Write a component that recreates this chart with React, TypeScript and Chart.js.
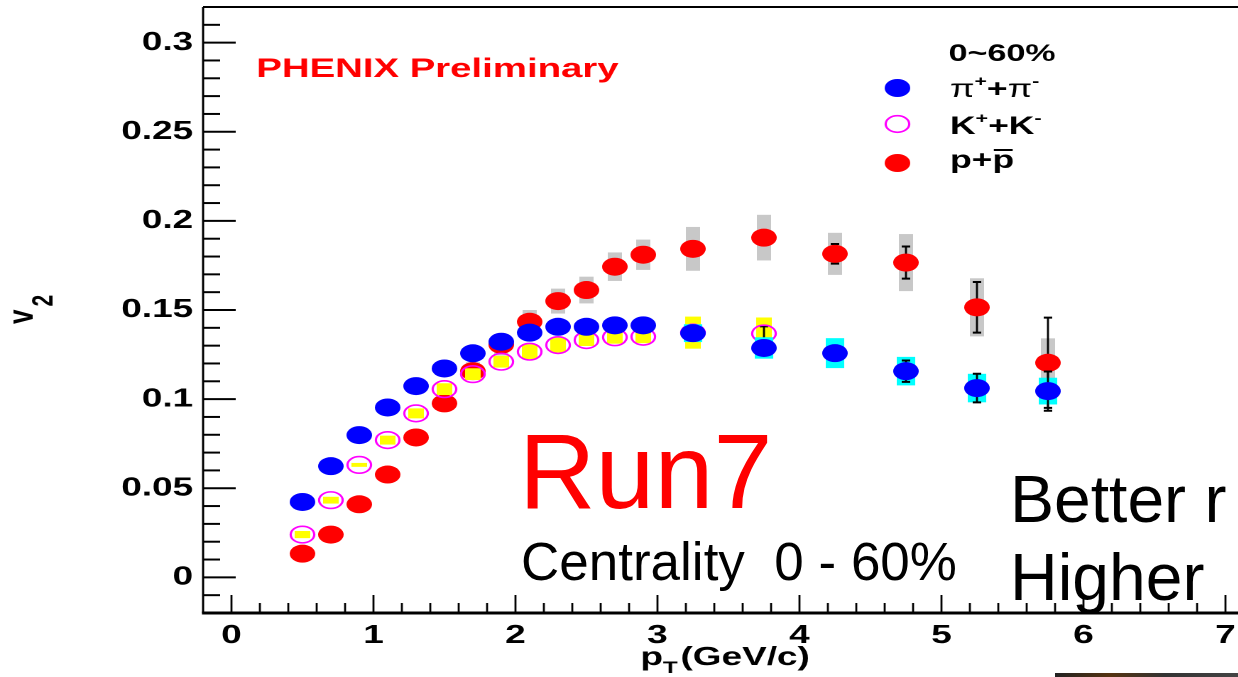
import React, { useEffect, useRef } from "react";
import { Chart, registerables } from "chart.js";

Chart.register(...registerables);

// ---------------- data ----------------
const pionPt = [0.5, 0.7, 0.9, 1.1, 1.3, 1.5, 1.7, 1.9, 2.1, 2.3, 2.5, 2.7, 2.9, 3.25, 3.75, 4.25, 4.75, 5.25, 5.75];
const pionV2 = [0.0423, 0.0624, 0.0798, 0.0953, 0.1073, 0.1172, 0.1257, 0.1322, 0.1373, 0.1406, 0.1406, 0.1414, 0.1414, 0.137, 0.1287, 0.1258, 0.1157, 0.1062, 0.1045];
const pionSys = [0.002, 0.002, 0.002, 0.002, 0.002, 0.0025, 0.0025, 0.003, 0.003, 0.003, 0.003, 0.003, 0.003, 0.005, 0.006, 0.0084, 0.008, 0.008, 0.0075];
const pionErr = [0.0005, 0.0005, 0.0005, 0.0005, 0.0006, 0.0006, 0.0007, 0.0008, 0.001, 0.001, 0.0012, 0.0014, 0.0016, 0.002, 0.003, 0.004, 0.006, 0.008, 0.011];

const kaonPt = [0.5, 0.7, 0.9, 1.1, 1.3, 1.5, 1.7, 1.9, 2.1, 2.3, 2.5, 2.7, 2.9, 3.25, 3.75];
const kaonV2 = [0.024, 0.0433, 0.0631, 0.077, 0.092, 0.1056, 0.114, 0.121, 0.1266, 0.1303, 0.1331, 0.1347, 0.135, 0.1373, 0.1368];
const kaonSys = [0.002, 0.0019, 0.0011, 0.0025, 0.0028, 0.0033, 0.0033, 0.0033, 0.0042, 0.0042, 0.0033, 0.0036, 0.0036, 0.009, 0.009];
const kaonErr = [0, 0, 0, 0, 0, 0, 0, 0, 0, 0, 0, 0, 0, 0, 0.004];

const protonPt = [0.5, 0.7, 0.9, 1.1, 1.3, 1.5, 1.7, 1.9, 2.1, 2.3, 2.5, 2.7, 2.9, 3.25, 3.75, 4.25, 4.75, 5.25, 5.75];
const protonV2 = [0.0133, 0.024, 0.041, 0.0577, 0.0785, 0.0976, 0.1157, 0.1305, 0.1434, 0.155, 0.1612, 0.1743, 0.181, 0.1843, 0.1906, 0.1815, 0.1766, 0.1515, 0.1204];
const protonSys = [0.001, 0.001, 0.0015, 0.002, 0.003, 0.004, 0.005, 0.006, 0.0066, 0.007, 0.0075, 0.008, 0.0085, 0.0123, 0.0128, 0.0118, 0.016, 0.0163, 0.0137];
const protonErr = [0.001, 0.001, 0.001, 0.001, 0.0012, 0.0013, 0.0015, 0.0017, 0.002, 0.002, 0.0022, 0.0025, 0.003, 0.003, 0.004, 0.0055, 0.009, 0.0142, 0.0253];

const xTickValues = [0, 1, 2, 3, 4, 5, 6, 7];
const yTickValues = [0, 0.05, 0.1, 0.15, 0.2, 0.25, 0.3];

const seriesLabels = ["π⁺+π⁻", "K⁺+K⁻", "p+p̄"];
const centralityLabel = "0~60%";

// ---------------- layout ----------------
const S = 1.42; // horizontal stretch of the original plot image
const W = 872;
const H = 677;
const FONT = '"Liberation Sans", Arial, Helvetica, sans-serif';

const extras = [
  { x: pionPt, y: pionV2, sys: pionSys, err: pionErr, sysColor: "#00ffff", halfW: 0.065 },
  { x: kaonPt, y: kaonV2, sys: kaonSys, err: kaonErr, sysColor: "#ffff00", halfW: 0.055 },
  { x: protonPt, y: protonV2, sys: protonSys, err: protonErr, sysColor: "#c8c8c8", halfW: 0.05 },
];

function drawParts(ctx: CanvasRenderingContext2D, x: number, y: number, parts: { t: string; f: string; dy?: number; over?: boolean }[]) {
  let cx = x;
  for (const p of parts) {
    ctx.font = p.f;
    const w = ctx.measureText(p.t).width;
    ctx.fillText(p.t, cx, y + (p.dy || 0));
    if (p.over) {
      ctx.save();
      ctx.lineWidth = 2;
      ctx.beginPath();
      ctx.moveTo(cx + 1, y - 18);
      ctx.lineTo(cx + w - 1, y - 18);
      ctx.stroke();
      ctx.restore();
    }
    cx += w;
  }
  return cx;
}

const rootPlugin = {
  id: "rootStyle",
  beforeDatasetDraw(chart: any, args: any) {
    const e = extras[args.index];
    if (!e) return;
    const ctx: CanvasRenderingContext2D = chart.ctx;
    const xs = chart.scales.x;
    const ys = chart.scales.y;
    const ca = chart.chartArea;
    ctx.save();
    ctx.beginPath();
    ctx.rect(ca.left, ca.top, ca.right - ca.left, ca.bottom - ca.top);
    ctx.clip();
    // systematic boxes
    ctx.fillStyle = e.sysColor;
    for (let i = 0; i < e.x.length; i++) {
      const x0 = xs.getPixelForValue(e.x[i] - e.halfW);
      const x1 = xs.getPixelForValue(e.x[i] + e.halfW);
      const y0 = ys.getPixelForValue(e.y[i] + e.sys[i]);
      const y1 = ys.getPixelForValue(e.y[i] - e.sys[i]);
      ctx.fillRect(x0, y0, x1 - x0, y1 - y0);
    }
    // statistical error bars
    ctx.strokeStyle = "#000";
    for (let i = 0; i < e.x.length; i++) {
      if (!e.err[i]) continue;
      const px = xs.getPixelForValue(e.x[i]);
      const y0 = ys.getPixelForValue(e.y[i] + e.err[i]);
      const y1 = ys.getPixelForValue(e.y[i] - e.err[i]);
      ctx.lineWidth = 1.4;
      ctx.beginPath();
      ctx.moveTo(px, y0);
      ctx.lineTo(px, y1);
      ctx.stroke();
      ctx.lineWidth = 2;
      ctx.beginPath();
      ctx.moveTo(px - 3, y0);
      ctx.lineTo(px + 3, y0);
      ctx.moveTo(px - 3, y1);
      ctx.lineTo(px + 3, y1);
      ctx.stroke();
    }
    ctx.restore();
  },
  afterDraw(chart: any) {
    const ctx: CanvasRenderingContext2D = chart.ctx;
    const xs = chart.scales.x;
    const ys = chart.scales.y;
    const ca = chart.chartArea;
    ctx.save();
    ctx.strokeStyle = "#000";
    ctx.fillStyle = "#000";
    // frame
    ctx.lineWidth = 2;
    ctx.beginPath();
    ctx.moveTo(ca.left, ca.top);
    ctx.lineTo(ca.right, ca.top);
    ctx.stroke();
    ctx.lineWidth = 1.5;
    ctx.beginPath();
    ctx.moveTo(ca.left, ca.top);
    ctx.lineTo(ca.left, ca.bottom);
    ctx.stroke();
    ctx.lineWidth = 3;
    ctx.beginPath();
    ctx.moveTo(ca.left - 0.8, ca.bottom);
    ctx.lineTo(ca.right, ca.bottom);
    ctx.stroke();
    // y ticks (inside)
    ctx.lineWidth = 2;
    for (let k = -1; k <= 31; k++) {
      const py = ys.getPixelForValue(k / 100);
      const len = k % 5 === 0 ? 23 : 12;
      ctx.beginPath();
      ctx.moveTo(ca.left, py);
      ctx.lineTo(ca.left + len, py);
      ctx.stroke();
    }
    // x ticks (inside)
    ctx.lineWidth = 1.4;
    for (let k = 0; k <= 35; k++) {
      const px = xs.getPixelForValue(k / 5);
      if (px > ca.right) break;
      const len = k % 5 === 0 ? 18 : 10;
      ctx.beginPath();
      ctx.moveTo(px, ca.bottom);
      ctx.lineTo(px, ca.bottom - len);
      ctx.stroke();
    }
    // axis titles
    ctx.textBaseline = "alphabetic";
    ctx.textAlign = "left";
    let cx = drawParts(ctx, 451, 665, [{ t: "p", f: `bold 26px ${FONT}` }]);
    cx = drawParts(ctx, cx, 673, [{ t: "T", f: `bold 17px ${FONT}` }]);
    drawParts(ctx, cx + 2, 665, [{ t: "(GeV/c)", f: `bold 26px ${FONT}` }]);

    ctx.save();
    ctx.translate(23, 324);
    ctx.rotate(-Math.PI / 2);
    ctx.font = `bold 26px ${FONT}`;
    ctx.fillText("v", 0, 0);
    const vw = ctx.measureText("v").width;
    ctx.font = `bold 21px ${FONT}`;
    ctx.fillText("2", vw + 3, 14);
    ctx.restore();

    // PHENIX label
    ctx.fillStyle = "#ff0000";
    ctx.font = `bold 27px ${FONT}`;
    ctx.fillText("PHENIX Preliminary", 180.5, 77);

    // legend
    ctx.fillStyle = "#000";
    ctx.font = `bold 24px ${FONT}`;
    ctx.fillText(centralityLabel, 668, 61);
    const mx = 632;
    const rows = [88, 124, 163];
    ctx.fillStyle = "#0000ff";
    ctx.beginPath();
    ctx.arc(mx, rows[0], 9, 0, Math.PI * 2);
    ctx.fill();
    ctx.strokeStyle = "#ff00ff";
    ctx.lineWidth = 1.6;
    ctx.beginPath();
    ctx.arc(mx, rows[1], 8.3, 0, Math.PI * 2);
    ctx.stroke();
    ctx.fillStyle = "#ff0000";
    ctx.beginPath();
    ctx.arc(mx, rows[2], 9, 0, Math.PI * 2);
    ctx.fill();
    ctx.fillStyle = "#000";
    ctx.strokeStyle = "#000";
    const big = `bold 25px ${FONT}`;
    const sup = `bold 15px ${FONT}`;
    drawParts(ctx, 669, 97, [
      { t: "π", f: `25px ${FONT}` },
      { t: "+", f: sup, dy: -11 },
      { t: "+", f: big },
      { t: "π", f: `25px ${FONT}` },
      { t: "-", f: sup, dy: -11 },
    ]);
    drawParts(ctx, 669, 134, [
      { t: "K", f: big },
      { t: "+", f: sup, dy: -11 },
      { t: "+", f: big },
      { t: "K", f: big },
      { t: "-", f: sup, dy: -11 },
    ]);
    drawParts(ctx, 669, 168, [
      { t: "p", f: big },
      { t: "+", f: big },
      { t: "p", f: big, over: true },
    ]);
    ctx.restore();
  },
};

function overlayStyle(left: number, top: number, fs: number, color: string): React.CSSProperties {
  return {
    position: "absolute",
    left,
    top,
    fontFamily: FONT,
    fontSize: fs,
    lineHeight: `${fs}px`,
    whiteSpace: "pre",
    color,
    margin: 0,
  };
}

export default function App() {
  const ref = useRef<HTMLCanvasElement>(null);
  useEffect(() => {
    document.body.style.margin = "0";
    const canvas = ref.current!;
    const chart = new Chart(canvas, {
      type: "scatter",
      data: {
        datasets: [
          {
            label: seriesLabels[0],
            data: pionPt.map((x, i) => ({ x, y: pionV2[i] })),
            pointStyle: "circle",
            pointRadius: 9,
            pointBackgroundColor: "#0000ff",
            pointBorderColor: "#0000ff",
            pointBorderWidth: 0,
            showLine: false,
          },
          {
            label: seriesLabels[1],
            data: kaonPt.map((x, i) => ({ x, y: kaonV2[i] })),
            pointStyle: "circle",
            pointRadius: 8.3,
            pointBackgroundColor: "rgba(0,0,0,0)",
            pointBorderColor: "#ff00ff",
            pointBorderWidth: 1.6,
            showLine: false,
          },
          {
            label: seriesLabels[2],
            data: protonPt.map((x, i) => ({ x, y: protonV2[i] })),
            pointStyle: "circle",
            pointRadius: 9,
            pointBackgroundColor: "#ff0000",
            pointBorderColor: "#ff0000",
            pointBorderWidth: 0,
            showLine: false,
          },
        ],
      },
      options: {
        responsive: false,
        maintainAspectRatio: false,
        animation: false,
        devicePixelRatio: 2,
        events: [],
        layout: { autoPadding: false, padding: { top: 7, left: 0, right: 0, bottom: 0 } },
        plugins: { legend: { display: false }, tooltip: { enabled: false } },
        scales: {
          x: {
            type: "linear",
            position: "bottom",
            min: -0.2,
            max: 7.09,
            grid: { display: false, drawTicks: false },
            border: { display: false },
            afterBuildTicks: (scale: any) => {
              scale.ticks = xTickValues.map((v) => ({ value: v }));
            },
            afterFit: (scale: any) => {
              scale.height = 64;
              scale.paddingLeft = 0;
              scale.paddingRight = 0;
              scale.paddingTop = 0;
              scale.paddingBottom = 0;
            },
            ticks: {
              padding: 7,
              maxRotation: 0,
              autoSkip: false,
              color: "#000",
              font: { family: FONT, size: 26, weight: "bold" },
              callback: (v: any) => String(v),
            },
          },
          y: {
            type: "linear",
            position: "left",
            min: -0.02,
            max: 0.32,
            grid: { display: false, drawTicks: false },
            border: { display: false },
            afterBuildTicks: (scale: any) => {
              scale.ticks = yTickValues.map((v) => ({ value: v }));
            },
            afterFit: (scale: any) => {
              scale.width = 143;
              scale.paddingLeft = 0;
              scale.paddingRight = 0;
              scale.paddingTop = 0;
              scale.paddingBottom = 0;
            },
            ticks: {
              padding: 7,
              autoSkip: false,
              color: "#000",
              font: { family: FONT, size: 26, weight: "bold" },
              callback: (v: any) => String(v),
            },
          },
        },
      },
      plugins: [rootPlugin],
    } as any);
    return () => chart.destroy();
  }, []);

  return (
    <div style={{ position: "fixed", left: 0, top: 0, width: 1238, height: 677, overflow: "hidden", background: "#fff" }}>
      <div style={{ position: "absolute", left: 0, top: 0, width: W, height: H, transform: `scaleX(${S})`, transformOrigin: "0 0" }}>
        <canvas ref={ref} width={W} height={H} style={{ display: "block", width: W, height: H }} />
      </div>
      <div style={overlayStyle(519, 418.3, 106, "#ff0000")}>Run7</div>
      <div style={overlayStyle(521, 535, 53, "#000")}>{"Centrality  0 - 60%"}</div>
      <div style={overlayStyle(1010, 466, 66, "#000")}>Better r</div>
      <div style={overlayStyle(1010, 544, 66, "#000")}>Higher</div>
      <div style={{ position: "absolute", left: 1055, top: 673, width: 183, height: 4, background: "linear-gradient(90deg,#222,#553311 30%,#333 60%,#444)" }} />
    </div>
  );
}
